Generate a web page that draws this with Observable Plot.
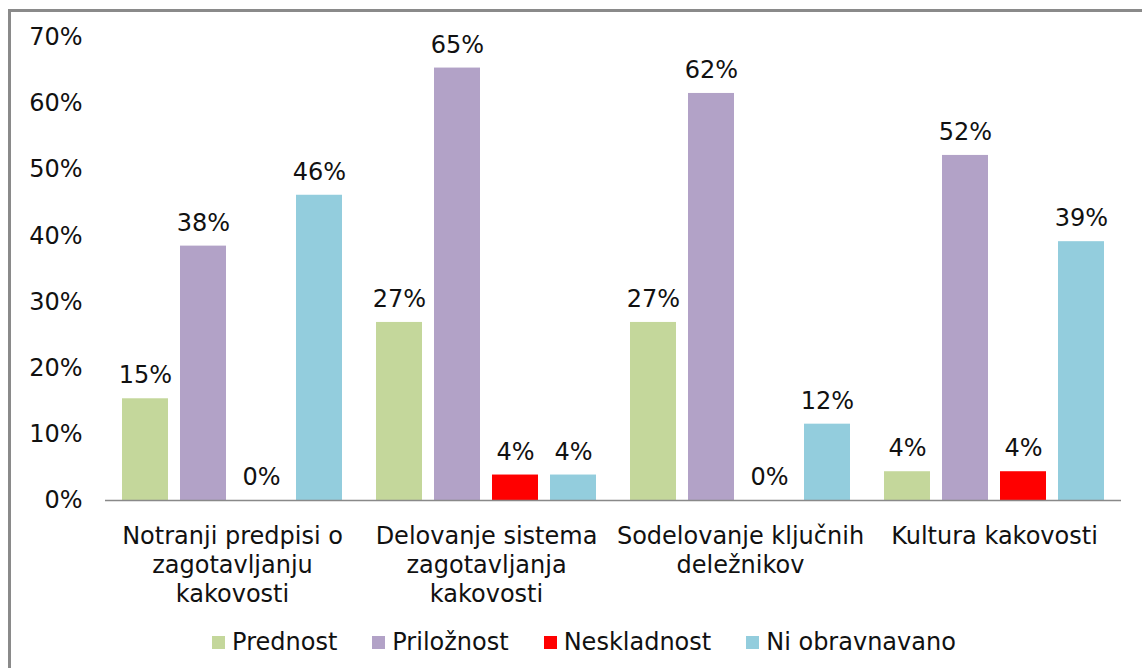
<!DOCTYPE html>
<html>
<head>
<meta charset="utf-8">
<script src="https://cdn.jsdelivr.net/npm/d3@7"></script>
<script src="https://cdn.jsdelivr.net/npm/@observablehq/plot@0.6"></script>
<style>
  html, body { margin: 0; padding: 0; background: #fff; overflow: hidden; }
  body { width: 1142px; height: 668px; position: relative; font-family: "DejaVu Sans", Verdana, sans-serif; color: #111; }
  #frame { position: absolute; left: 8px; top: 9px; right: -10px; bottom: -10px; border-left: 3px solid #8a8a8a; border-top: 3px solid #8a8a8a; }
  #chart { position: absolute; left: 0; top: 0; }
  #legend { position: absolute; left: 13px; width: 1142px; top: 627px; height: 30px; display: flex; justify-content: center; align-items: center; font-size: 24px; gap: 35px; }
  .item { display: flex; align-items: center; gap: 7px; }
  .sw { width: 13px; height: 13px; display: inline-block; }
</style>
</head>
<body>
<div id="frame"></div>
<div id="chart"></div>
<div id="legend"></div>
<script>
const categories = ["Notranji predpisi o zagotavljanju kakovosti", "Delovanje sistema zagotavljanja kakovosti", "Sodelovanje ključnih deležnikov", "Kultura kakovosti"];
const categoryLabels = ["Notranji predpisi o\nzagotavljanju\nkakovosti", "Delovanje sistema\nzagotavljanja\nkakovosti", "Sodelovanje ključnih\ndeležnikov", "Kultura kakovosti"];
const series = ["Prednost", "Priložnost", "Neskladnost", "Ni obravnavano"];
const colors = ["#C4D79B", "#B2A2C7", "#FF0000", "#93CDDD"];
const prednost = [15.38, 26.92, 26.92, 4.35];
const priloznost = [38.46, 65.38, 61.54, 52.17];
const neskladnost = [0, 3.85, 0, 4.35];
const niObravnavano = [46.15, 3.85, 11.54, 39.13];
const yTicks = [0, 10, 20, 30, 40, 50, 60, 70];

const seriesValues = [prednost, priloznost, neskladnost, niObravnavano];
const data = [];
categories.forEach((c, i) => {
  series.forEach((s, j) => {
    data.push({group: c, series: s, value: seriesValues[j][i]});
  });
});

const plot = Plot.plot({
  width: 1142,
  height: 620,
  marginLeft: 103,
  marginRight: 20,
  marginTop: 37,
  marginBottom: 120,
  style: {fontFamily: "DejaVu Sans, Verdana, sans-serif", fontSize: "24px", color: "#111", background: "transparent", overflow: "visible"},
  fx: {domain: categories, padding: 0, axis: null, label: null},
  x: {domain: series, paddingInner: 12 / 58, paddingOuter: 0.27, axis: null, label: null},
  y: {domain: [0, 70], axis: null, label: null},
  color: {domain: series, range: colors},
  marks: [
    Plot.barY(data, {fx: "group", x: "series", y: "value", fill: "series"}),
    Plot.ruleY([0], {stroke: "#898989", strokeWidth: 1.5}),
    Plot.text(data, {fx: "group", x: "series", y: "value", text: d => Math.round(d.value) + "%", dy: -23, fill: "#111", fontSize: 24}),
    Plot.axisY({ticks: yTicks, tickSize: 0, tickPadding: 23, tickFormat: d => d + "%", fontSize: 24, label: null}),
    Plot.axisFx({anchor: "bottom", tickSize: 0, tickPadding: 23, lineAnchor: "top", lineHeight: 1.21, fontSize: 24, label: null,
      tickFormat: d => categoryLabels[categories.indexOf(d)]})
  ]
});
document.getElementById("chart").appendChild(plot);

const legend = document.getElementById("legend");
series.forEach((s, i) => {
  const item = document.createElement("div");
  item.className = "item";
  const sw = document.createElement("span");
  sw.className = "sw";
  sw.style.background = colors[i];
  const t = document.createElement("span");
  t.textContent = s;
  item.appendChild(sw);
  item.appendChild(t);
  legend.appendChild(item);
});
</script>
</body>
</html>
